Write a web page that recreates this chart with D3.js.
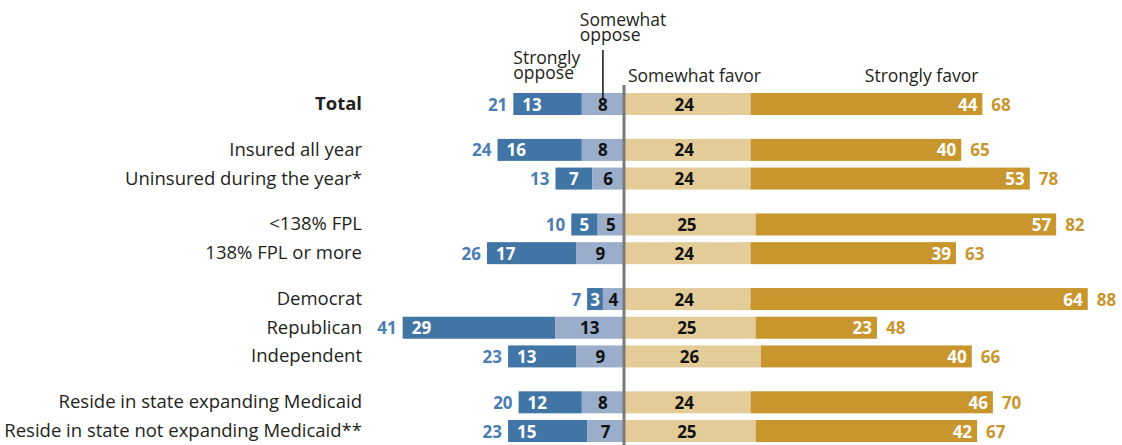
<html>
<head>
<meta charset="utf-8">
<script src="https://d3js.org/d3.v7.min.js"></script>
<style>
  body { margin: 0; background: #fff; }
  text { font-family: "Open Sans", sans-serif; }
  .cat { font-size: 18.5px; fill: #231f20; }
  .head { font-size: 17.5px; fill: #231f20; }
  .num { font-size: 17px; font-weight: bold; }
</style>
</head>
<body>
<script>
// rows, top to bottom
var categories = ["Total", "Insured all year", "Uninsured during the year*",
  "<138% FPL", "138% FPL or more", "Democrat", "Republican", "Independent",
  "Reside in state expanding Medicaid", "Reside in state not expanding Medicaid**"];
var groups = [0, 1, 1, 2, 2, 3, 3, 3, 4, 4];

var stronglyOppose = [13, 16, 7, 5, 17, 3, 29, 13, 12, 15];
var somewhatOppose = [8, 8, 6, 5, 9, 4, 13, 9, 8, 7];
var totalOppose = [21, 24, 13, 10, 26, 7, 41, 23, 20, 23];
var somewhatFavor = [24, 24, 24, 25, 24, 24, 25, 26, 24, 25];
var stronglyFavor = [44, 40, 53, 57, 39, 64, 23, 40, 46, 42];
var totalFavor = [68, 65, 78, 82, 63, 88, 48, 66, 70, 67];

var colors = {
  so: "#4175a5",
  wo: "#9aadcb",
  wf: "#e3cc98",
  sf: "#c8962d"
};

var width = 1122, height = 445;
var svg = d3.select("body").append("svg")
  .attr("width", width)
  .attr("height", height);

// x: percent, 0 at the centre line
var x = d3.scaleLinear().domain([-45, 95]).range([624 - 45 * 5.27, 624 + 95 * 5.27]);

// y: slot index, extra space between groups
var gap = 0.6;
var slot = categories.map(function (c, i) { return i + groups[i] * gap; });
var y = d3.scaleLinear().domain([0, d3.max(slot)]).range([104, 431]);
var barH = 22;

var rows = categories.map(function (c, i) {
  return {
    name: c, i: i, yc: y(slot[i]),
    so: stronglyOppose[i], wo: somewhatOppose[i], to: totalOppose[i],
    wf: somewhatFavor[i], sf: stronglyFavor[i], tf: totalFavor[i]
  };
});

var g = svg.selectAll("g.row").data(rows).enter().append("g").attr("class", "row");

// bars
g.append("rect")
  .attr("x", function (d) { return x(-(d.so + d.wo)); })
  .attr("y", function (d) { return d.yc - barH / 2; })
  .attr("width", function (d) { return x(-d.wo) - x(-(d.so + d.wo)); })
  .attr("height", barH)
  .attr("fill", colors.so);
g.append("rect")
  .attr("x", function (d) { return x(-d.wo); })
  .attr("y", function (d) { return d.yc - barH / 2; })
  .attr("width", function (d) { return x(0) - x(-d.wo); })
  .attr("height", barH)
  .attr("fill", colors.wo);
g.append("rect")
  .attr("x", x(0))
  .attr("y", function (d) { return d.yc - barH / 2; })
  .attr("width", function (d) { return x(d.wf) - x(0); })
  .attr("height", barH)
  .attr("fill", colors.wf);
g.append("rect")
  .attr("x", function (d) { return x(d.wf); })
  .attr("y", function (d) { return d.yc - barH / 2; })
  .attr("width", function (d) { return x(d.wf + d.sf) - x(d.wf); })
  .attr("height", barH)
  .attr("fill", colors.sf);

// centre line
svg.append("line")
  .attr("x1", x(0)).attr("x2", x(0))
  .attr("y1", 85).attr("y2", height)
  .attr("stroke", "#7a7a7a")
  .attr("stroke-width", 3);

// category labels
g.append("text")
  .attr("class", "cat")
  .attr("x", 362)
  .attr("y", function (d) { return d.yc + 6; })
  .attr("text-anchor", "end")
  .style("font-weight", function (d) { return d.i === 0 ? "bold" : null; })
  .text(function (d) { return d.name; });

// numbers
var ny = function (d) { return d.yc + 6.5; };
g.append("text").attr("class", "num")
  .attr("x", function (d) { return x(-(d.so + d.wo)) - 6; })
  .attr("y", ny).attr("text-anchor", "end")
  .attr("fill", "#4a7db3")
  .text(function (d) { return d.to; });
g.append("text").attr("class", "num")
  .attr("x", function (d) {
    var l = x(-(d.so + d.wo)), r = x(-d.wo);
    return (r - l) > 40 ? l + 9 : (l + r) / 2;
  })
  .attr("y", ny)
  .attr("text-anchor", function (d) { return (x(-d.wo) - x(-(d.so + d.wo))) > 40 ? "start" : "middle"; })
  .attr("fill", "#fff")
  .text(function (d) { return d.so; });
g.append("text").attr("class", "num")
  .attr("x", function (d) { return (x(-d.wo) + x(0)) / 2; })
  .attr("y", ny).attr("text-anchor", "middle")
  .attr("fill", "#111")
  .text(function (d) { return d.wo; });
g.append("text").attr("class", "num")
  .attr("x", function (d) { return (x(0) + x(d.wf)) / 2 - 3; })
  .attr("y", ny).attr("text-anchor", "middle")
  .attr("fill", "#111")
  .text(function (d) { return d.wf; });
g.append("text").attr("class", "num")
  .attr("x", function (d) { return x(d.wf + d.sf) - 5; })
  .attr("y", ny).attr("text-anchor", "end")
  .attr("fill", "#fff")
  .text(function (d) { return d.sf; });
g.append("text").attr("class", "num")
  .attr("x", function (d) { return x(d.wf + d.sf) + 9; })
  .attr("y", ny).attr("text-anchor", "start")
  .attr("fill", colors.sf)
  .text(function (d) { return d.tf; });

// column headers, tied to the Total row
var t = rows[0];
var h1 = svg.append("text").attr("class", "head")
  .attr("x", x(-(t.so + t.wo))).attr("y", 64);
h1.append("tspan").attr("x", x(-(t.so + t.wo))).text("Strongly");
h1.append("tspan").attr("x", x(-(t.so + t.wo))).attr("dy", 15).text("oppose");

var h2 = svg.append("text").attr("class", "head")
  .attr("x", x(-t.wo) - 2).attr("y", 26);
h2.append("tspan").attr("x", x(-t.wo) - 2).text("Somewhat");
h2.append("tspan").attr("x", x(-t.wo) - 2).attr("dy", 15).text("oppose");

svg.append("line")
  .attr("x1", (x(-t.wo) + x(0)) / 2).attr("x2", (x(-t.wo) + x(0)) / 2)
  .attr("y1", 50).attr("y2", 99)
  .attr("stroke", "#111")
  .attr("stroke-width", 1.5);

svg.append("text").attr("class", "head")
  .attr("x", x(0) + 4).attr("y", 82)
  .text("Somewhat favor");

svg.append("text").attr("class", "head")
  .attr("x", x(t.wf + t.sf) - 4).attr("y", 82)
  .attr("text-anchor", "end")
  .text("Strongly favor");
</script>
</body>
</html>
